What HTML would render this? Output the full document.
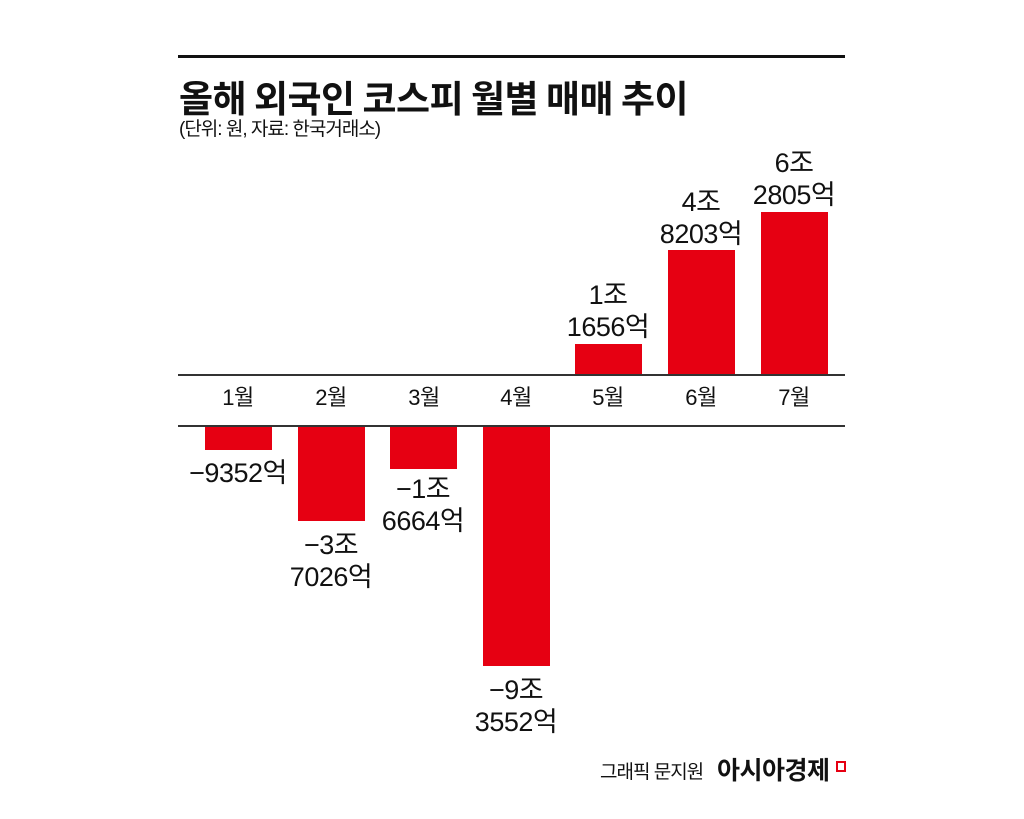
<!DOCTYPE html>
<html><head><meta charset="utf-8"><style>
body{margin:0;width:1024px;height:819px;background:#fff;position:relative;overflow:hidden;font-family:"Liberation Sans","Noto Sans CJK KR",sans-serif;color:#111}
.a{position:absolute}
.bar{position:absolute;background:#e60012}
.l{position:absolute;width:140px;text-align:center;font-size:27px;line-height:32px;letter-spacing:-0.5px}
.m{position:absolute;width:80px;text-align:center;font-size:22px;top:384px;line-height:28px;letter-spacing:-0.5px}
</style></head><body>
<div class="a" style="left:178px;top:55px;width:667px;height:3px;background:#111"></div>
<div class="a" style="left:179px;top:72px;font-size:37px;font-weight:bold;letter-spacing:-0.5px;line-height:48px;font-family:'Noto Sans CJK KR',sans-serif">올해 외국인 코스피 월별 매매 추이</div>
<div class="a" style="left:179px;top:118px;font-size:19px;letter-spacing:-1px;line-height:24px">(단위: 원, 자료: 한국거래소)</div>
<div class="a" style="left:178px;top:374px;width:667px;height:2px;background:#333"></div>
<div class="a" style="left:178px;top:425px;width:667px;height:2px;background:#333"></div>
<div class="m" style="left:198px">1월</div>
<div class="m" style="left:291px">2월</div>
<div class="m" style="left:384px">3월</div>
<div class="m" style="left:476px">4월</div>
<div class="m" style="left:568px">5월</div>
<div class="m" style="left:661px">6월</div>
<div class="m" style="left:754px">7월</div>
<div class="bar" style="left:205px;top:427px;width:67px;height:23px"></div>
<div class="bar" style="left:298px;top:427px;width:67px;height:94px"></div>
<div class="bar" style="left:390px;top:427px;width:67px;height:42px"></div>
<div class="bar" style="left:483px;top:427px;width:67px;height:239px"></div>
<div class="bar" style="left:575px;top:344px;width:67px;height:30px"></div>
<div class="bar" style="left:668px;top:250px;width:67px;height:124px"></div>
<div class="bar" style="left:761px;top:212px;width:67px;height:162px"></div>
<div class="l" style="left:168px;top:457px">−9352억</div>
<div class="l" style="left:261px;top:529px">−3조<br>7026억</div>
<div class="l" style="left:353px;top:473px">−1조<br>6664억</div>
<div class="l" style="left:446px;top:674px">−9조<br>3552억</div>
<div class="l" style="left:538px;top:279px">1조<br>1656억</div>
<div class="l" style="left:631px;top:186px">4조<br>8203억</div>
<div class="l" style="left:724px;top:147px">6조<br>2805억</div>
<div class="a" style="left:600px;top:760px;font-size:19px;letter-spacing:-1px;line-height:26px">그래픽 문지원</div>
<div class="a" style="left:717px;top:755px;font-size:25px;font-weight:bold;letter-spacing:-0.5px;line-height:32px">아시아경제</div>
<div class="a" style="left:836px;top:761px;width:6px;height:7px;border:2px solid #e60012"></div>
</body></html>
